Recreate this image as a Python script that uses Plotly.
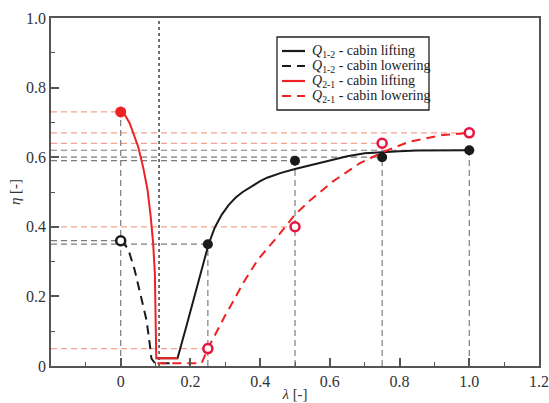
import plotly.graph_objects as go

# ---- data ----
# Curves
q12_lift_lam = [0.102, 0.163, 0.19, 0.22, 0.252, 0.27, 0.29, 0.31, 0.33, 0.35, 0.37, 0.40, 0.42, 0.46, 0.50, 0.54, 0.60, 0.65, 0.70, 0.75, 0.80, 0.85, 0.90, 0.95, 1.00]
q12_lift_eta = [0.022, 0.022, 0.12, 0.23, 0.35, 0.398, 0.435, 0.463, 0.484, 0.50, 0.513, 0.531, 0.541, 0.555, 0.566, 0.576, 0.591, 0.603, 0.611, 0.615, 0.617, 0.619, 0.62, 0.62, 0.62]

q12_low_lam = [0.0, 0.021, 0.04, 0.059, 0.074, 0.083, 0.088, 0.098, 0.15]
q12_low_eta = [0.36, 0.338, 0.276, 0.2, 0.132, 0.065, 0.022, 0.008, 0.008]

q21_lift_lam = [0.0, 0.013, 0.026, 0.04, 0.05, 0.064, 0.077, 0.086, 0.093, 0.098, 0.100, 0.102, 0.163]
q21_lift_eta = [0.73, 0.72, 0.697, 0.66, 0.63, 0.573, 0.506, 0.43, 0.353, 0.266, 0.17, 0.022, 0.022]

q21_low_lam = [0.105, 0.232, 0.25, 0.275, 0.298, 0.325, 0.351, 0.393, 0.45, 0.5, 0.542, 0.608, 0.685, 0.748, 0.829, 0.925, 1.0]
q21_low_eta = [0.008, 0.008, 0.05, 0.1, 0.142, 0.19, 0.238, 0.305, 0.372, 0.435, 0.475, 0.53, 0.582, 0.613, 0.645, 0.664, 0.67]

# Measured points
p12_lift_lam = [0.25, 0.5, 0.75, 1.0]
p12_lift_eta = [0.35, 0.59, 0.60, 0.62]
p12_low_lam = [0.0]
p12_low_eta = [0.36]
p21_lift_lam = [0.0]
p21_lift_eta = [0.73]
p21_low_lam = [0.25, 0.5, 0.75, 1.0]
p21_low_eta = [0.05, 0.40, 0.64, 0.67]

divider_lam = 0.11

x_ticks = [0, 0.2, 0.4, 0.6, 0.8, 1.0, 1.2]
x_labels = ["0", "0.2", "0.4", "0.6", "0.8", "1.0", "1.2"]
y_ticks = [0, 0.2, 0.4, 0.6, 0.8, 1.0]
y_labels = ["0", "0.2", "0.4", "0.6", "0.8", "1.0"]
X_MIN, X_MAX = -0.2, 1.2

legend_names = [
    "<i>Q</i><sub>1-2</sub> - cabin lifting",
    "<i>Q</i><sub>1-2</sub> - cabin lowering",
    "<i>Q</i><sub>2-1</sub> - cabin lifting",
    "<i>Q</i><sub>2-1</sub> - cabin lowering",
]

BLACK = "#1a1a1a"
RED = "#ee2222"
RED_MK = "#e8143c"
GRAY_REF = "rgba(100,100,100,0.85)"
SALMON_REF = "rgba(240,110,85,0.65)"
FONT = "Times New Roman"
DASH_MAIN = "9px,6px"
DASH_REF = "6px,4px"

fig = go.Figure()

def hline(lam, eta, color):
    fig.add_trace(go.Scatter(x=[X_MIN, lam], y=[eta, eta], mode="lines",
                             line=dict(color=color, width=1.2, dash=DASH_REF),
                             showlegend=False, hoverinfo="skip"))

for l, e in zip(p12_lift_lam, p12_lift_eta):
    hline(l, e, GRAY_REF)
for l, e in zip(p12_low_lam, p12_low_eta):
    hline(l, e, GRAY_REF)
for l, e in zip(p21_lift_lam, p21_lift_eta):
    hline(l, e, SALMON_REF)
for l, e in zip(p21_low_lam, p21_low_eta):
    hline(l, e, SALMON_REF)

lift_pts = {}
for l, e in list(zip(p12_lift_lam, p12_lift_eta)) + list(zip(p21_lift_lam, p21_lift_eta)):
    lift_pts[l] = max(lift_pts.get(l, 0), e)
for l, e in lift_pts.items():
    fig.add_trace(go.Scatter(x=[l, l], y=[0, e], mode="lines",
                             line=dict(color=GRAY_REF, width=1.2, dash=DASH_REF),
                             showlegend=False, hoverinfo="skip"))

fig.add_trace(go.Scatter(x=[divider_lam, divider_lam], y=[0, 1], mode="lines",
                         line=dict(color="#444", width=1.5, dash="dot"),
                         showlegend=False, hoverinfo="skip"))

styles = [
    dict(color=BLACK, width=2),
    dict(color=BLACK, width=2, dash=DASH_MAIN),
    dict(color=RED, width=2),
    dict(color=RED, width=2, dash=DASH_MAIN),
]
curves = [(q12_lift_lam, q12_lift_eta), (q12_low_lam, q12_low_eta),
          (q21_lift_lam, q21_lift_eta), (q21_low_lam, q21_low_eta)]
for (xs, ys), st, nm in zip(curves, styles, legend_names):
    fig.add_trace(go.Scatter(x=xs, y=ys, mode="lines", name=nm, line=st, showlegend=False))

fig.add_trace(go.Scatter(x=p12_lift_lam, y=p12_lift_eta, mode="markers", showlegend=False,
                         marker=dict(color=BLACK, size=10, symbol="circle")))
fig.add_trace(go.Scatter(x=p12_low_lam, y=p12_low_eta, mode="markers", showlegend=False,
                         marker=dict(color="white", size=9, symbol="circle",
                                     line=dict(color=BLACK, width=2.5))))
fig.add_trace(go.Scatter(x=p21_lift_lam, y=p21_lift_eta, mode="markers", showlegend=False,
                         marker=dict(color=RED, size=11, symbol="circle")))
fig.add_trace(go.Scatter(x=p21_low_lam, y=p21_low_eta, mode="markers", showlegend=False,
                         marker=dict(color="white", size=9, symbol="circle",
                                     line=dict(color=RED_MK, width=2.5))))

# ---- hand-built legend (paper coordinates) ----
PL, PR, PT, PB = 51, 539, 18, 366
def px_x(p):
    return (p - PL) / (PR - PL)
def px_y(p):
    return (PB - p) / (PB - PT)

fig.add_shape(type="rect", xref="paper", yref="paper",
              x0=px_x(277), x1=px_x(429), y0=px_y(110), y1=px_y(37),
              line=dict(color="#222", width=1.3), fillcolor="white", layer="above")
row_y = [51, 66, 81, 96]
for ry, st, nm in zip(row_y, styles, legend_names):
    fig.add_shape(type="line", xref="paper", yref="paper",
                  x0=px_x(282), x1=px_x(305), y0=px_y(ry), y1=px_y(ry),
                  line=dict(color=st["color"], width=2.2, dash=st.get("dash", "solid")), layer="above")
    fig.add_annotation(xref="paper", yref="paper", x=px_x(310), y=px_y(ry),
                       xanchor="left", yanchor="middle", showarrow=False, text=nm,
                       font=dict(family=FONT, size=14, color="#222"))

axis_common = dict(
    showgrid=False, zeroline=False, showline=True, linecolor="#555", linewidth=1.5,
    mirror=True, ticks="inside", ticklen=8, tickwidth=1.5, tickcolor="#555",
    tickfont=dict(family=FONT, size=16, color="#333"), automargin=False,
)

fig.update_xaxes(range=[X_MIN, X_MAX], tickvals=x_ticks, ticktext=x_labels,
                 minor=dict(dtick=0.1, ticks="inside", ticklen=4, tickwidth=1.2, tickcolor="#555"),
                 title=dict(text="<i>λ</i> [-]", font=dict(family=FONT, size=15, color="#333"), standoff=0),
                 **axis_common)
fig.update_yaxes(range=[0, 1], tickvals=y_ticks, ticktext=y_labels,
                 minor=dict(dtick=0.1, ticks="inside", ticklen=4, tickwidth=1.2, tickcolor="#555"),
                 title=dict(text="<i>η</i> [-]", font=dict(family=FONT, size=15, color="#333"), standoff=2),
                 **axis_common)

fig.update_layout(
    width=549, height=403,
    margin=dict(l=PL, r=549 - PR, t=PT, b=403 - PB),
    paper_bgcolor="white", plot_bgcolor="white",
    font=dict(family=FONT, color="#222"),
    showlegend=False,
)

fig.write_html("out.html")
